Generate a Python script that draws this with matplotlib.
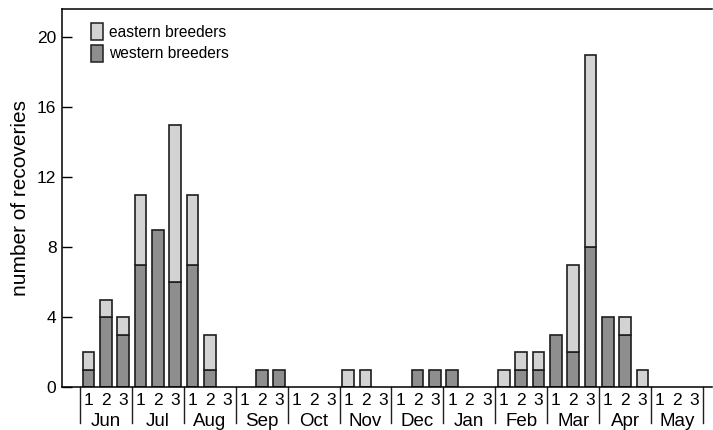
import numpy as np
import matplotlib.pyplot as plt
import matplotlib.transforms as mtransforms
from matplotlib.patches import Patch

plt.rcParams["font.family"] = ["Liberation Sans", "DejaVu Sans"]

months = ["Jun", "Jul", "Aug", "Sep", "Oct", "Nov",
          "Dec", "Jan", "Feb", "Mar", "Apr", "May"]
decades = ["1", "2", "3"]

# recoveries per ten-day period (3 per month, Jun..May)
western = [1, 4, 3,   7, 9, 6,   7, 1, 0,   0, 1, 1,
           0, 0, 0,   0, 0, 0,   0, 1, 1,   1, 0, 0,
           0, 1, 1,   3, 2, 8,   4, 3, 0,   0, 0, 0]
eastern = [1, 1, 1,   4, 0, 9,   4, 2, 0,   0, 0, 0,
           0, 0, 0,   1, 1, 0,   0, 0, 0,   0, 0, 0,
           1, 1, 1,   0, 5, 11,  0, 1, 1,   0, 0, 0]

light = "#d3d3d3"
dark = "#8e8e8e"
edge = "#1e1e1e"

fig = plt.figure(figsize=(7.13, 4.30), dpi=100)
ax = fig.add_axes([62 / 713, 43 / 430, 650 / 713, 378 / 430])

x = np.arange(len(western))
w = np.array(western)
e = np.array(eastern)
ax.bar(x[w > 0], w[w > 0], width=0.67, color=dark, edgecolor=edge, linewidth=1.2)
ax.bar(x[e > 0], e[e > 0], bottom=w[e > 0], width=0.67, color=light,
       edgecolor=edge, linewidth=1.2)

ax.set_xlim(-1.54, 36.02)
ax.set_ylim(0, 21.6)
ax.set_yticks(range(0, 21, 4))
ax.tick_params(axis="y", direction="in", length=7, width=1, labelsize=12.5, pad=4)
ax.set_ylabel("number of recoveries", fontsize=15, labelpad=5)

ax.set_xticks(x)
ax.set_xticklabels(decades * len(months), fontsize=12.5)
ax.tick_params(axis="x", length=0, pad=4)

for s in ["left", "bottom", "top"]:
    ax.spines[s].set_linewidth(1.1)
ax.spines["right"].set_visible(False)

trans = mtransforms.blended_transform_factory(ax.transData, ax.transAxes)
for m, name in enumerate(months):
    ax.text(3 * m + 1, -0.09, name, transform=trans, ha="center", va="center",
            fontsize=13.5)
for m in range(len(months) + 1):
    ax.plot([3 * m - 0.5, 3 * m - 0.5], [0, -0.096], transform=trans,
            color=edge, linewidth=1, clip_on=False)

handles = [Patch(facecolor=light, edgecolor=edge, linewidth=1.1, label="eastern breeders"),
           Patch(facecolor=dark, edgecolor=edge, linewidth=1.1, label="western breeders")]
ax.legend(handles=handles, loc="upper left", bbox_to_anchor=(29 / 650, 1 - 14 / 378),
          frameon=False, fontsize=11.2, handlelength=0.77, handleheight=1.3,
          handletextpad=0.4, labelspacing=0.3, borderaxespad=0, borderpad=0)

fig.savefig("out.png", dpi=100)
